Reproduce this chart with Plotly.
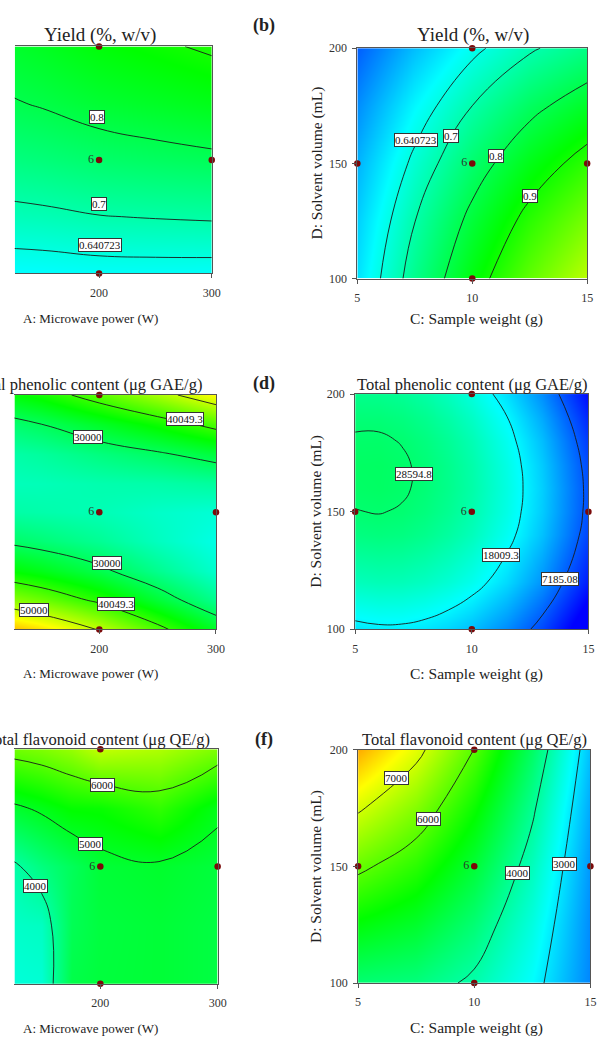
import plotly.graph_objects as go

W, H = 604, 1048

# ---------------- data ----------------
# Panel (a): Yield vs A (microwave power, W) and B (coded, axis hidden)
A_GRID_Y = [100, 150, 200, 250, 300]
B_GRID_Y = [-1, -0.5, 0, 0.5, 1]
YIELD_AB = [
    [0.607, 0.609, 0.615, 0.616, 0.615],
    [0.680, 0.687, 0.698, 0.703, 0.707],
    [0.740, 0.752, 0.768, 0.778, 0.787],
    [0.788, 0.805, 0.826, 0.840, 0.854],
    [0.823, 0.845, 0.871, 0.890, 0.909],
]
# Panel (b): Yield vs C (sample weight, g) and D (solvent volume, mL)
C_GRID_Y = [5, 7.5, 10, 12.5, 15]
D_GRID_Y = [100, 125, 150, 175, 200]
YIELD_CD = [
    [0.580, 0.731, 0.865, 0.981, 1.080],
    [0.560, 0.699, 0.820, 0.924, 1.010],
    [0.530, 0.656, 0.765, 0.856, 0.930],
    [0.490, 0.604, 0.700, 0.779, 0.840],
    [0.440, 0.541, 0.625, 0.691, 0.740],
]
YIELD_LEVELS = [0.640723, 0.7, 0.8, 0.9]

# Panel (c): Total phenolic content vs A and B
A_GRID_P = [100, 150, 200, 250, 300]
B_GRID_P = [-1, -0.75, -0.5, -0.25, 0, 0.25, 0.5, 0.75, 1]
PHENOLIC_AB = [
    [61441, 56196, 49627, 41574, 33461],
    [48169, 44044, 38931, 32558, 26237],
    [37697, 34692, 31035, 26342, 21813],
    [30025, 28140, 25939, 22926, 20189],
    [25153, 24388, 23643, 22310, 21365],
    [23081, 23436, 24147, 24494, 25341],
    [23809, 25284, 27451, 29478, 32117],
    [27337, 29932, 33555, 37262, 41693],
    [33665, 37380, 42459, 47846, 54069],
]
PHENOLIC_LEVELS_AB = [30000, 40049.3, 50000]

# Panel (d): Total phenolic content vs C and D
C_GRID_P = [5, 6, 7, 8, 9, 10, 11.5, 13, 15]
D_GRID_P = [100, 120, 140, 150, 160, 170, 180, 190, 200]
PHENOLIC_CD = [
    [16875, 17377, 17336, 16751, 15622, 13949, 10422, 5671, -2567],
    [23159, 23544, 23385, 22682, 21436, 19646, 15942, 11015, 2543],
    [27267, 27534, 27258, 26438, 25074, 23167, 19287, 14184, 5477],
    [28505, 28713, 28378, 27500, 26077, 24111, 20143, 14952, 6128],
    [29199, 29349, 28955, 28017, 26536, 24512, 20456, 15177, 6235],
    [29349, 29440, 28987, 27991, 26452, 24368, 20224, 14857, 5798],
    [28955, 28987, 28476, 27421, 25823, 23681, 19448, 13993, 4817],
    [28016, 27990, 27420, 26307, 24650, 22449, 18129, 12585, 3292],
    [26534, 26449, 25821, 24649, 22933, 20673, 16265, 10634, 1222],
]
PHENOLIC_LEVELS_CD = [7185.08, 18009.3, 28594.8]

# Panel (e): Total flavonoid content vs A and B
A_GRID_F = [125, 150, 175, 200, 250, 300]
B_GRID_F = [-1, -0.5, 0, 0.5, 1]
FLAVONOID_AB = [
    [3500, 3550, 4700, 4800, 4850, 4750],
    [3650, 3700, 4600, 4780, 4850, 4750],
    [3900, 4257, 4560, 4846, 4936, 4800],
    [4900, 5092, 5332, 5359, 5700, 5101],
    [6210, 6336, 6533, 6900, 6734, 6332],
]
FLAVONOID_LEVELS_AB = [4000, 5000, 6000]

# Panel (f): Total flavonoid content vs C and D
C_GRID_F = [5, 7.5, 10, 12.5, 15]
D_GRID_F = [100, 125, 150, 175, 200]
FLAVONOID_CD = [
    [4362, 4278, 3891, 3200, 2206],
    [5223, 4936, 4345, 3451, 2254],
    [6130, 5640, 4846, 3749, 2348],
    [7085, 6391, 5394, 4094, 2490],
    [8086, 7189, 5989, 4485, 2678],
]
FLAVONOID_LEVELS_CD = [3000, 4000, 6000, 7000]

# Design points (center point replicated 6 times)
DESIGN_A = [200, 200, 300, 200, 100]
DESIGN_B = [1, 0, 0, -1, 0]
DESIGN_C = [10, 10, 15, 10, 5]
DESIGN_D = [200, 150, 150, 100, 150]
DESIGN_TEXT = ["", "6", "", "", ""]

A_TICKS = [100, 200, 300]
C_TICKS = [5, 10, 15]
D_TICKS = [100, 150, 200]

# ---------------- styling / layout ----------------
SERIF = "Liberation Serif, Times New Roman, serif"
CSCALE = [[0.0, "#0000FF"], [0.25, "#00FFFF"], [0.5, "#00FF00"],
          [0.75, "#FFFF00"], [1.0, "#FF0000"]]
AXIS_COLOR = "#555555"

# pixel boxes: (left, right, top, bottom)
PANELS = [
    dict(key="a", box=(12, 213, 40, 270), xr=[125.2, 300], left=True,
         x=A_GRID_Y, y=B_GRID_Y, z=YIELD_AB, levels=YIELD_LEVELS, zr=(0.34, 1.42),
         labels=[("0.8", 198, 0.38), ("0.7", 200, -0.385), ("0.640723", 201, -0.754)]),
    dict(key="b", box=(361.5, 596, 41.7, 275.3), xr=[5, 15], left=False,
         x=C_GRID_Y, y=D_GRID_Y, z=YIELD_CD, levels=YIELD_LEVELS, zr=(0.34, 1.42),
         labels=[("0.640723", 7.56, 160), ("0.7", 9.06, 161.9), ("0.8", 11.03, 153.3),
                 ("0.9", 12.51, 135.7)]),
    dict(key="c", box=(11.7, 217.3, 393.3, 630.8), xr=[127.3, 300], left=True,
         x=A_GRID_P, y=B_GRID_P, z=PHENOLIC_AB, levels=PHENOLIC_LEVELS_AB, zr=(700, 71900),
         labels=[("40049.3", 273.4, 0.798), ("30000", 190.2, 0.646), ("30000", 207, -0.435),
                 ("40049.3", 214, -0.787), ("50000", 144, -0.831)]),
    dict(key="d", box=(359.3, 597.3, 392.3, 630.7), xr=[5, 15], left=False,
         x=C_GRID_P, y=D_GRID_P, z=PHENOLIC_CD, levels=PHENOLIC_LEVELS_CD, zr=(700, 71900),
         labels=[("28594.8", 7.52, 166), ("18009.3", 11.27, 131.7), ("7185.08", 13.8, 121.5)]),
    dict(key="e", box=(11.7, 219, 752.3, 990), xr=[126.8, 300], left=True,
         x=A_GRID_F, y=B_GRID_F, z=FLAVONOID_AB, levels=FLAVONOID_LEVELS_AB, zr=(1100, 9500),
         labels=[("6000", 202, 0.697), ("5000", 191.6, 0.192), ("4000", 144.8, -0.164)]),
    dict(key="f", box=(362.3, 599.3, 752.7, 989.3), xr=[5, 15], left=False,
         x=C_GRID_F, y=D_GRID_F, z=FLAVONOID_CD, levels=FLAVONOID_LEVELS_CD, zr=(1100, 9500),
         labels=[("7000", 6.67, 187.7), ("6000", 8.05, 170.4), ("4000", 11.85, 147.3),
                 ("3000", 13.87, 151.1)]),
]

fig = go.Figure()
layout = dict(width=W, height=H, margin=dict(l=0, r=0, t=0, b=0),
              paper_bgcolor="white", plot_bgcolor="white", showlegend=False,
              font=dict(family=SERIF, color="#222222"))
annotations = []

for i, p in enumerate(PANELS, start=1):
    xn = "x" if i == 1 else f"x{i}"
    yn = "y" if i == 1 else f"y{i}"
    xl = "xaxis" if i == 1 else f"xaxis{i}"
    yl = "yaxis" if i == 1 else f"yaxis{i}"
    x0, x1, y0, y1 = p["box"]
    zmin, zmax = p["zr"]

    # smooth colour field
    fig.add_trace(go.Contour(
        x=p["x"], y=p["y"], z=p["z"], xaxis=xn, yaxis=yn,
        colorscale=CSCALE, zmin=zmin, zmax=zmax, showscale=False,
        autocontour=False,
        contours=dict(coloring="heatmap", showlines=False, start=zmin,
                      end=zmax, size=(zmax - zmin) / 4),
        line=dict(width=0), hoverinfo="skip"))
    # contour lines at the levels shown
    for lv in p["levels"]:
        fig.add_trace(go.Contour(
            x=p["x"], y=p["y"], z=p["z"], xaxis=xn, yaxis=yn,
            showscale=False, autocontour=False,
            contours=dict(coloring="none", start=lv, end=lv, size=1),
            line=dict(color="#1a1a1a", width=0.9, smoothing=1.3),
            hoverinfo="skip"))
    # design points
    dx = DESIGN_A if p["left"] else DESIGN_C
    dy = DESIGN_B if p["left"] else DESIGN_D
    fig.add_trace(go.Scatter(
        x=dx, y=dy, xaxis=xn, yaxis=yn, mode="markers+text",
        text=DESIGN_TEXT, textposition="middle left",
        textfont=dict(family=SERIF, size=12, color="#2a3a2a"),
        marker=dict(color="#7B0A0A", size=6.5), cliponaxis=False,
        hoverinfo="skip"))

    layout[xl] = dict(
        domain=[x0 / W, x1 / W], range=p["xr"], anchor=yn,
        tickvals=A_TICKS if p["left"] else C_TICKS,
        ticks="outside", ticklen=4, tickwidth=1, tickcolor=AXIS_COLOR,
        showline=True, linecolor=AXIS_COLOR, linewidth=1, mirror=True,
        showgrid=False, zeroline=False, ticklabelstandoff=4,
        tickfont=dict(family=SERIF, size=12, color="#333333"))
    if p["left"]:
        layout[yl] = dict(
            domain=[1 - y1 / H, 1 - y0 / H], range=[-1, 1], anchor=xn,
            side="right", showline=True, linecolor=AXIS_COLOR, linewidth=1,
            showticklabels=False, ticks="", showgrid=False, zeroline=False)
    else:
        layout[yl] = dict(
            domain=[1 - y1 / H, 1 - y0 / H], range=[100, 200], anchor=xn,
            tickvals=D_TICKS, ticks="outside", ticklen=4, tickwidth=1,
            tickcolor=AXIS_COLOR, showline=True, linecolor=AXIS_COLOR,
            linewidth=1, mirror=True, showgrid=False, zeroline=False,
            ticklabelstandoff=3,
            tickfont=dict(family=SERIF, size=12, color="#333333"))

    # boxed contour labels
    for txt, lx, ly in p["labels"]:
        annotations.append(dict(
            x=lx, y=ly, xref=xn, yref=yn, text=txt, showarrow=False,
            font=dict(family=SERIF, size=11, color="#111111"),
            bgcolor="white", bordercolor="#333333", borderwidth=1, borderpad=0))


def paper_text(text, px, py, size, anchor="center", bold=False, angle=0):
    return dict(x=px / W, y=1 - py / H, xref="paper", yref="paper",
                text=f"<b>{text}</b>" if bold else text, showarrow=False,
                xanchor=anchor, yanchor="middle", textangle=angle,
                font=dict(family=SERIF, size=size, color="#222222"))


# panel titles
annotations += [
    paper_text("Yield (%, w/v)", 99, 28, 19),
    paper_text("Yield (%, w/v)", 480, 28, 19),
    paper_text("Total phenolic content (μg GAE/g)", 205, 383, 16.5, anchor="right"),
    paper_text("Total phenolic content (μg GAE/g)", 479, 383, 16.5),
    paper_text("Total flavonoid content (μg QE/g)", 213, 742, 16.5, anchor="right"),
    paper_text("Total flavonoid content (μg QE/g)", 481, 742, 16.5),
]
# panel letters
annotations += [
    paper_text("(b)", 266, 19, 18, bold=True),
    paper_text("(d)", 266, 382, 18, bold=True),
    paper_text("(f)", 266, 742, 18, bold=True),
]
# axis titles
for row_y, ylab in [(316, 158), (676, 511), (1035, 871)]:
    annotations.append(paper_text("A: Microwave power (W)", 18, row_y, 13, anchor="left"))
    annotations.append(paper_text("C: Sample weight (g)", 483, row_y, 15.5))
    annotations.append(paper_text("D: Solvent volume (mL)", 320, ylab, 15.5, angle=-90))

layout["annotations"] = annotations
fig.update_layout(**layout)
fig.write_html("out.html", config={"displayModeBar": False},
               post_script="document.body.style.margin='0px';")
